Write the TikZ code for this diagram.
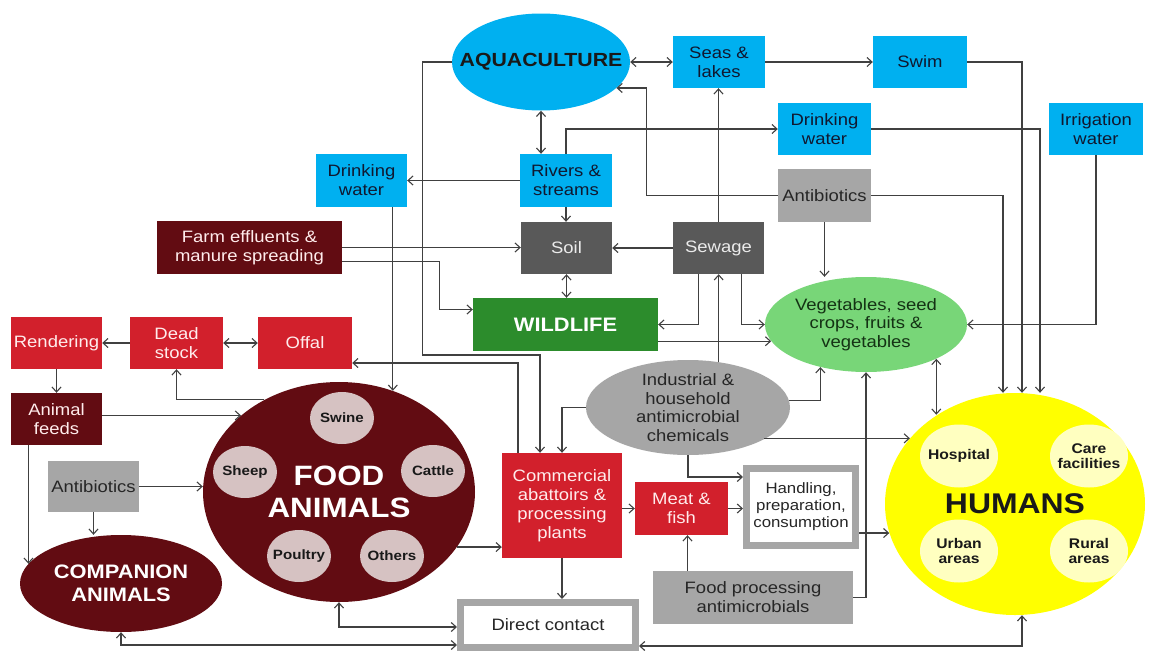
\documentclass[tikz,border=0pt]{standalone}
\usepackage{fontspec}
\setmainfont{Liberation Sans}[FakeStretch=1.12]
\usetikzlibrary{shapes.geometric,arrows.meta}
\definecolor{cyanc}{RGB}{0,176,240}
\definecolor{navytext}{RGB}{16,24,48}
\definecolor{darkredc}{RGB}{98,12,18}
\definecolor{redc}{RGB}{210,32,44}
\definecolor{dgrayc}{RGB}{89,89,89}
\definecolor{grayc}{RGB}{166,166,166}
\definecolor{greenc}{RGB}{44,140,44}
\definecolor{vegc}{RGB}{120,214,120}
\definecolor{vegtext}{RGB}{20,50,20}
\definecolor{yellowc}{RGB}{255,255,0}
\definecolor{lyellow}{RGB}{255,255,192}
\definecolor{pinkc}{RGB}{214,194,194}
\definecolor{linec}{RGB}{64,64,64}
\definecolor{paletext}{RGB}{255,236,236}
\begin{document}
\begin{tikzpicture}[x=1pt,y=-1pt,
  box/.style={rectangle, inner sep=0pt, minimum width=92pt, minimum height=52pt, align=center, font=\fontsize{16.5}{19}\selectfont},
  cyanbox/.style={box, fill=cyanc, text=navytext},
  redbox/.style={box, fill=redc, text=paletext},
  darkredbox/.style={box, fill=darkredc, text=paletext},
  graybox/.style={box, fill=grayc, text=black!85},
  dgraybox/.style={box, fill=dgrayc, text=white!92!black},
  whitebox/.style={box, fill=white, draw=grayc, line width=7pt, text=black!85},
  ell/.style={ellipse, inner xsep=-80pt, inner ysep=-60pt, align=center},
  fsub/.style={ell, minimum width=64pt, minimum height=52pt, fill=pinkc, text=black!90, font=\bfseries\fontsize{13.5}{15}\selectfont},
  hsub/.style={ell, minimum width=78pt, minimum height=63pt, fill=lyellow, text=black!90, font=\bfseries\fontsize{14}{15}\selectfont},
  conn/.style={draw=linec, line width=1.1pt, -{Straight Barb[length=5pt,width=9pt]}},
  dconn/.style={draw=linec, line width=1.1pt, {Straight Barb[length=5pt,width=9pt]}-{Straight Barb[length=5pt,width=9pt]}}
]
\useasboundingbox (0,0) rectangle (1149,651);
\fill[white] (0,0) rectangle (1149,651);

% nodes
\node[ell, fill=cyanc, minimum width=178pt, minimum height=97pt, text=black!90, font=\bfseries\fontsize{19}{22}\selectfont] (aqua) at (541,62) {AQUACULTURE};
\node[cyanbox] (seas) at (719,62) {Seas \&\\lakes};
\node[cyanbox, minimum width=94pt] (swim) at (920,62) {Swim};
\node[cyanbox, minimum width=93pt] (dwr) at (824.5,129) {Drinking\\water};
\node[cyanbox, minimum width=94pt] (irr) at (1096,129) {Irrigation\\water};
\node[graybox, minimum width=93pt, minimum height=53pt] (abr) at (824.5,195.5) {Antibiotics};
\node[cyanbox, minimum width=91pt, minimum height=53pt] (dwl) at (361.5,180.5) {Drinking\\water};
\node[cyanbox, minimum height=53pt] (rivers) at (566,180.5) {Rivers \&\\streams};
\node[dgraybox, minimum width=91pt] (soil) at (566.5,248) {Soil};
\node[dgraybox, minimum width=91pt] (sewage) at (718.5,248) {Sewage};
\node[darkredbox, minimum width=185pt, minimum height=53pt] (farm) at (249.5,247.5) {Farm effluents \&\\manure spreading};
\node[box, fill=greenc, text=white, minimum width=185pt, minimum height=53pt, font=\bfseries\fontsize{19.5}{22}\selectfont] (wild) at (565.5,324.5) {WILDLIFE};
\node[ell, fill=vegc, text=vegtext, minimum width=202pt, minimum height=95pt, font=\fontsize{16.5}{18.5}\selectfont] (veg) at (866,324.5) {Vegetables, seed\\crops, fruits \&\\vegetables};
\node[redbox, minimum width=91pt] (rend) at (56.5,343) {Rendering};
\node[redbox, minimum width=93pt] (dead) at (176.5,343) {Dead\\stock};
\node[redbox, minimum width=94pt] (offal) at (305,343) {Offal};
\node[darkredbox, minimum width=91pt] (feeds) at (56.5,419) {Animal\\feeds};
\node[ell, fill=darkredc, minimum width=272pt, minimum height=220pt, text=white, font=\bfseries\fontsize{28}{32}\selectfont] (food) at (339,492) {FOOD\\ANIMALS};
\node[fsub] (swine) at (342,418) {Swine};
\node[fsub] (sheep) at (245,472) {Sheep};
\node[fsub] (cattle) at (433,471) {Cattle};
\node[fsub] (poultry) at (299,556) {Poultry};
\node[fsub] (others) at (392,556) {Others};
\node[graybox, minimum width=91pt, minimum height=51pt] (abl) at (93.5,486.5) {Antibiotics};
\node[ell, fill=darkredc, text=white, minimum width=202pt, minimum height=97pt, font=\bfseries\fontsize{19.5}{23}\selectfont] (comp) at (121,583.5) {COMPANION\\ANIMALS};
\node[redbox, minimum width=120pt, minimum height=105pt] (comm) at (562,505.5) {Commercial\\abattoirs \&\\processing\\plants};
\node[redbox, minimum width=93pt, minimum height=53pt] (meat) at (681.5,508.5) {Meat \&\\fish};
\node[whitebox, minimum width=109pt, minimum height=77pt, font=\fontsize{15}{17}\selectfont] (hand) at (801,507) {Handling,\\preparation,\\consumption};
\node[graybox, minimum width=200pt, minimum height=53pt] (fpa) at (753,597.5) {Food processing\\antimicrobials};
\node[whitebox, minimum width=175pt, minimum height=45pt] (direct) at (548,625) {Direct contact};
\node[ell, fill=grayc, text=black!85, minimum width=204pt, minimum height=95pt, font=\fontsize{16.5}{18.5}\selectfont] (ind) at (688,407.5) {Industrial \&\\household\\antimicrobial\\chemicals};
\node[ell, fill=yellowc, text=black!90, minimum width=260pt, minimum height=222pt, font=\bfseries\fontsize{28.5}{32}\selectfont] (humans) at (1015,504) {HUMANS};
\node[hsub] (hosp) at (959,456) {Hospital};
\node[hsub] (care) at (1089,456) {Care\\facilities};
\node[hsub] (urban) at (959,551) {Urban\\areas};
\node[hsub] (rural) at (1089,551) {Rural\\areas};

% connectors
\draw[dconn] (aqua.east) -- (seas.west);
\draw[conn] (seas.east) -- (swim.west);
\draw[conn] (swim.east) -| ([xshift=7pt]humans.north);
\draw[conn] (dwr.east) -| ([xshift=25pt]humans.north);
\draw[conn] (abr.east) -| ([xshift=-12pt]humans.north);
\draw[conn] (irr.south) |- (veg.east);
\draw[dconn] (aqua.south) -- (aqua.south |- rivers.north);
\draw[conn] (rivers.west) -- (dwl.east);
\draw[conn] (rivers.north) |- (dwr.west);
\draw[conn] (rivers.south) -- (soil.north -| rivers.south);
\draw[conn] (abr.west) -- ++(-131,0) |- (aqua.-19);
\draw[conn] (abr.south) -- (abr.south |- veg.north);
\draw[conn] (sewage.north) -- (sewage.north |- seas.south);
\draw[conn] (sewage.west) -- (soil.east);
\draw[dconn] (soil.south) -- (soil.south |- wild.north);
\draw[conn] ([xshift=-20pt]sewage.south) |- (wild.east);
\draw[conn] ([xshift=23pt]sewage.south) |- (veg.west);
\draw[conn] (wild.east |- veg.190) -- (veg.190);
\draw[conn] (farm.east) -- (farm.east -| soil.west);
\draw[conn] ([yshift=-14pt]farm.east) -- ++(97,0) |- ([yshift=15pt]wild.west);
\draw[conn] (food.62 |- dwl.south) -- (food.62);
\draw[conn] (aqua.west) -- ++(-29,0) -- ++(0,293) -| ([xshift=-22pt]comm.north);
\draw[conn] ([xshift=-44pt]comm.north) |- ([yshift=-20pt]offal.east);
\draw[conn] (ind.west) -| (comm.north);
\draw[conn] (ind.4) -| (veg.223);
\draw[conn] (humans.148 -| ind.-23) -- (humans.148);
\draw[conn] (ind.56) -- (ind.56 |- sewage.south);
\draw[conn] (ind.south) |- ([yshift=30pt]hand.west);
\draw[conn] (fpa.east) -| (veg.south);
\draw[conn] ([xshift=6pt]meat.south |- fpa.north) -- ([xshift=6pt]meat.south);
\draw[conn] (comm.east |- meat.west) -- (meat.west);
\draw[conn] (meat.east) -- (meat.east -| hand.west);
\draw[conn] (hand.east |- humans.193) -- (humans.193);
\draw[conn] (food.-25) -- (food.-25 -| comm.west);
\draw[conn] (comm.south) -- (comm.south |- direct.north);
\draw[dconn] (food.south) |- ([yshift=-2pt]direct.west);
\draw[dconn] (comp.south) |- ([yshift=-20pt]direct.west);
\draw[dconn] ([yshift=-21pt]direct.east) -| ([xshift=7pt]humans.south);
\draw[dconn] (veg.-26) -- (veg.-26 |- humans.131);
\draw[dconn] (dead.east) -- (offal.west);
\draw[conn] (dead.west) -- (rend.east);
\draw[conn] (rend.south) -- (feeds.north);
\draw[conn] (feeds.east |- food.142) -- (food.142);
\draw[conn] (food.129) -| (dead.south);
\draw[conn] ([xshift=-28pt]feeds.south) -- ([xshift=-28pt]feeds.south |- comp.168);
\draw[conn] (abl.east) -- (abl.east -| food.west);
\draw[conn] (abl.south) -- (abl.south |- comp.north);
\end{tikzpicture}
\end{document}
